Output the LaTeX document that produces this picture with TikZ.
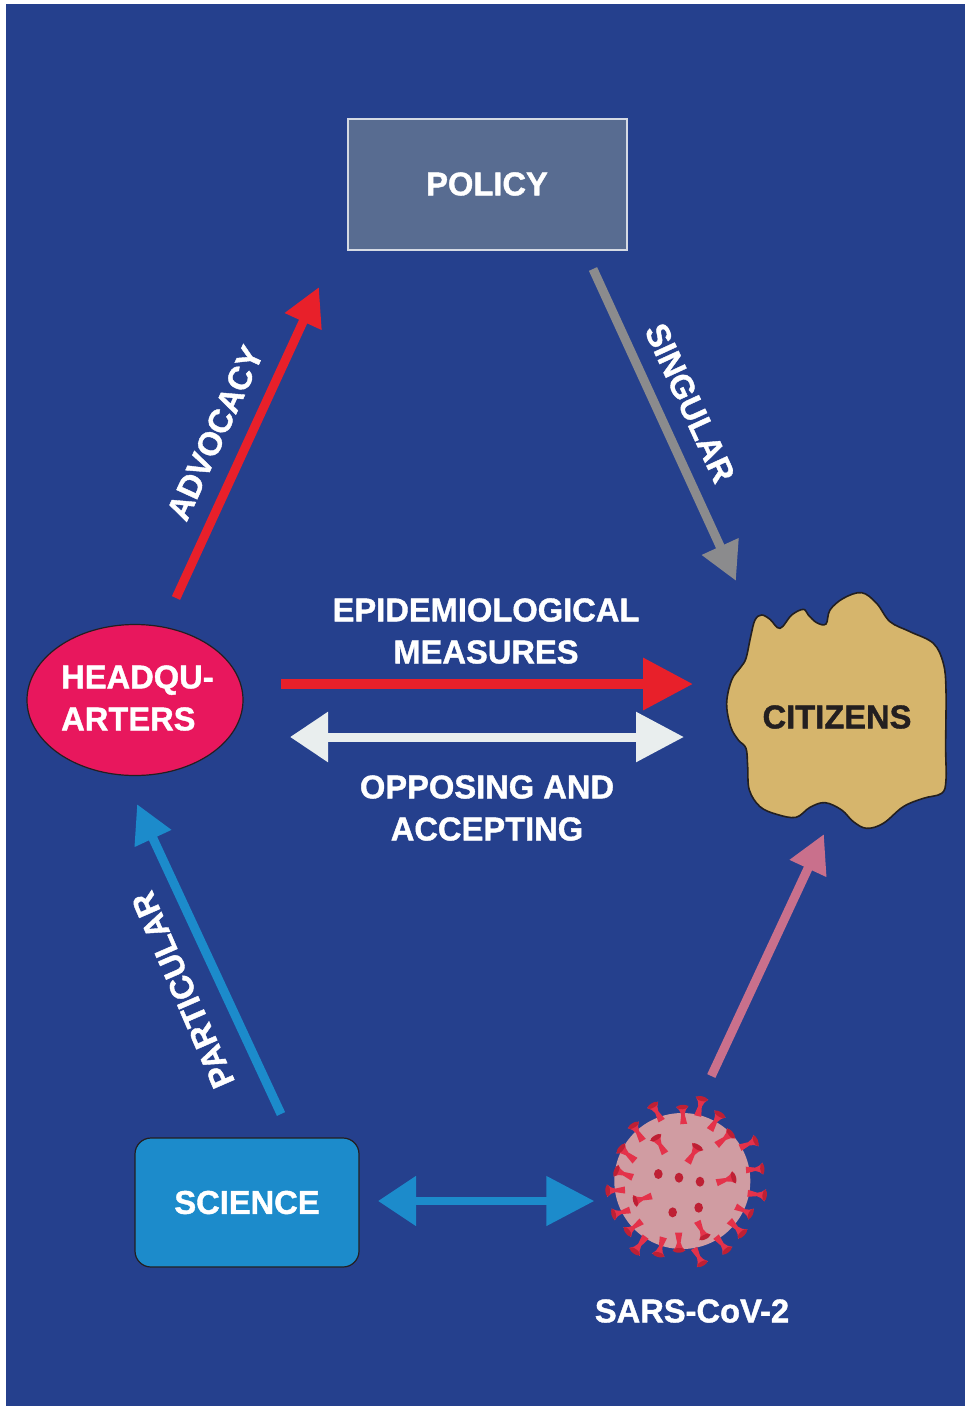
\documentclass[tikz,border=0pt]{standalone}
\usepackage{fontspec}
\setmainfont[BoldFeatures={FakeBold=1.2,FakeStretch=0.99}]{Liberation Sans}
\usetikzlibrary{arrows.meta,shapes.geometric,calc}
\definecolor{bgblue}{HTML}{25408D}
\definecolor{policyfill}{HTML}{586C91}
\definecolor{hqred}{HTML}{E8175D}
\definecolor{arrred}{HTML}{E8202A}
\definecolor{sciblue}{HTML}{1C8BCB}
\definecolor{tan}{HTML}{D6B56C}
\definecolor{offwhite}{HTML}{E9EEEE}
\definecolor{greyarr}{HTML}{8B8B8D}
\definecolor{pinkarr}{HTML}{C9708C}
\definecolor{virusbody}{HTML}{D09CA2}
\definecolor{spikered}{HTML}{E4324A}
\definecolor{spikedark}{HTML}{BE2034}
\definecolor{inkdark}{HTML}{231F20}
\newcommand{\lab}{\fontsize{33}{42}\selectfont\bfseries}
\tikzset{
  label text/.style={text=white,font=\lab,inner sep=0pt,align=center},
  slim arrow/.style={line width=9pt,-{Triangle[length=38pt,width=38pt]}},
}
\begin{document}
\begin{tikzpicture}[x=1pt,y=-1pt]
\useasboundingbox (0,0) rectangle (965,1406);
\fill[white] (0,0) rectangle (965,1406);
\fill[bgblue] (6,4) rectangle (965,1406);
% citizens outline
\begin{scope}[shift={(710,580)},x=0.3333pt,y=-0.3333pt]
\draw[fill=tan,draw=inkdark,line width=1.6pt] plot[smooth cycle,tension=0.6] coordinates {
(210,145)(180,118)(155,105)(135,120)(122,170)(108,235)(92,262)(65,300)(50,370)(62,440)(85,480)(108,505)(113,560)(118,630)(150,680)(200,703)(258,712)(300,682)(345,668)(395,690)(430,725)(470,745)(520,730)(580,680)(640,655)(695,640)(708,600)(707,500)(708,330)(700,250)(670,190)(600,155)(540,125)(500,70)(455,38)(400,55)(360,90)(348,132)(320,128)(295,105)(280,88)(245,105)};
\end{scope}
% nodes
\node[draw=white!75!policyfill,fill=policyfill,line width=2pt,minimum width=279pt,minimum height=131pt,inner sep=0pt,text=white,font=\lab] (policy) at (487,184) {POLICY};
\node[ellipse,draw=inkdark,fill=hqred,line width=1.2pt,minimum width=216pt,minimum height=151pt,inner sep=0pt] (hq) at (135,700) {};
\node[label text,align=left,anchor=west] (hqtext) at (61,698) {HEADQU-\\ARTERS};
\node[draw=inkdark,fill=sciblue,rounded corners=16pt,line width=1.2pt,minimum width=224pt,minimum height=129pt,inner sep=0pt,text=white,font=\lab] (science) at (247,1202.5) {SCIENCE};
\node[inner sep=0pt,text=inkdark,font=\lab] (citizens) at (837,717) {CITIZENS};
\node[circle,fill=virusbody,minimum size=136pt,inner sep=0pt] (virus) at (682.3,1181) {};
\node[label text] (sars) at (692,1311) {SARS-CoV-2};
% virus spikes
\foreach \a/\b/\c/\d in {215/122/188/75,281/132/277/80,323/108/336/55,360/150/390/102,380/195/423/160,450/203/498/182,468/270/518/266,473/340/525/346,437/380/483/402,418/422/458/462,378/470/412/512,312/505/337/552,266/458/267/512,220/472/205/525,167/470/134/515,155/424/112/456,120/390/70/403,105/330/52/332,128/292/78/272,135/242/92/205,158/182/130/135,225/220/197/172,293/248/323/200,380/308/432/292,185/348/135/363,322/424/345/472}{
  \pgfmathsetmacro{\ux}{(\c-\a)/3}
  \pgfmathsetmacro{\uy}{-(\d-\b)/3}
  \pgfmathsetmacro{\px}{590+\a/3}
  \pgfmathsetmacro{\py}{1080+\b/3}
  \begin{scope}[shift={(\px,\py)},x={(\ux pt,\uy pt)},y={(-\uy pt,\ux pt)}]
    \fill[spikered] (0,-0.2) -- (0.55,-0.1) .. controls (0.75,-0.1) and (0.85,-0.24) .. (1.02,-0.36) -- (1.02,0.36) .. controls (0.85,0.24) and (0.75,0.1) .. (0.55,0.1) -- (0,0.2) -- cycle;
    \fill[spikedark] (0.98,0) ellipse [x radius=0.13,y radius=0.33];
  \end{scope}
}
\foreach \a/\b in {205/282,267/293,330/305,248/397,326/383}{
  \fill[spikedark] ({590+\a/3},{1080+\b/3}) ellipse [x radius=4.3pt,y radius=5pt];
}
% connectors
\draw[slim arrow,arrred] ($(hq)+(41,-102)$) -- ($(policy)+(-168,103)$);
\draw[slim arrow,greyarr] ($(policy)+(106,85)$) -- ($(citizens)+(-101,-136)$);
\draw[line width=10pt,arrred,-{Triangle[length=50pt,width=50pt]}] ($(hq)+(146,-16)$) -- ($(citizens)+(-144,-33)$);
\draw[line width=9pt,offwhite,{Triangle[length=38pt,width=48pt]}-{Triangle[length=48pt,width=48pt]}] ($(hq)+(155,37)$) -- ($(citizens)+(-153,20)$);
\draw[slim arrow,sciblue] ($(science)+(34,-88.5)$) -- ($(hq)+(2,104)$);
\draw[slim arrow,pinkarr] ($(virus)+(29,-105)$) -- ($(citizens)+(-13,117)$);
\draw[line width=8pt,sciblue,{Triangle[length=38pt,width=48pt]}-{Triangle[length=48pt,width=48pt]}] ($(science)+(131,-1.5)$) -- ($(virus)+(-88,20)$);
% labels
\node[label text,rotate=65.4] (advocacy) at (215,433) {ADVOCACY};
\node[label text,rotate=-65.3] (singular) at (690,403) {SINGULAR};
\node[label text,rotate=113.5] (particular) at (183,990) {PARTICULAR};
\node[label text] (epi) at (486,631) {EPIDEMIOLOGICAL\\MEASURES};
\node[label text] (opp) at (487,808) {OPPOSING AND\\ACCEPTING};
\end{tikzpicture}
\end{document}
